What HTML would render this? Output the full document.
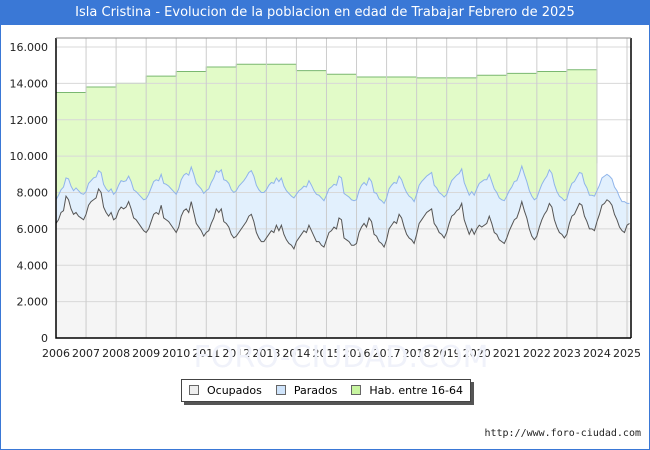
<!DOCTYPE html>
<html><head><meta charset="utf-8">
<style>
body{margin:0;background:#fff;}
#wrap{position:relative;width:648px;height:448px;border:1px solid #3a78d6;background:#fff;font-family:"DejaVu Sans","Liberation Sans",sans-serif;overflow:hidden}
#title{position:absolute;left:0;top:0;width:648px;height:24px;background:#3a78d6;color:#fff;font-size:13px;line-height:24px;text-align:center}
#legend{position:absolute;left:180px;top:378px;width:288px;height:21px;border:1px solid #444;background:#fff;box-shadow:3px 3px 0 #555;font-size:11px;line-height:21px;display:flex;justify-content:space-around;align-items:center}
.sw{display:inline-block;width:8px;height:8px;border:1px solid #666;margin-right:8px;vertical-align:-1px}
#foot{position:absolute;right:8px;top:427px;font-size:10px;font-family:"DejaVu Sans Mono","Liberation Mono",monospace;color:#222}
</style></head><body>
<div id="wrap">
<div id="title">Isla Cristina - Evolucion de la poblacion en edad de Trabajar Febrero de 2025</div>
<svg id="chart" width="648" height="448" style="position:absolute;left:0;top:0"></svg>
<div id="legend">
<span><span class="sw" style="background:#eee"></span>Ocupados</span>
<span><span class="sw" style="background:#cfe4fb"></span>Parados</span>
<span><span class="sw" style="background:#c8f5a0"></span>Hab. entre 16-64</span>
</div>
<div id="foot">http://www.foro-ciudad.com</div>
</div>
<script>
const years=[2006,2007,2008,2009,2010,2011,2012,2013,2014,2015,2016,2017,2018,2019,2020,2021,2022,2023,2024,2025];
const yTicks=[0,2000,4000,6000,8000,10000,12000,14000,16000];
const yTickLabels=["0","2.000","4.000","6.000","8.000","10.000","12.000","14.000","16.000"];
const habYear=[13500,13800,14000,14400,14650,14900,15050,15050,14700,14500,14350,14350,14300,14300,14450,14550,14650,14750];
const habDrop=9600;
const ocupados=[
6300,6500,6900,7000,7800,7600,7100,6800,6900,6700,6600,6500,
6800,7300,7500,7600,7700,8200,8000,7200,6900,6700,6900,6500,
6600,7000,7200,7100,7200,7500,7100,6600,6500,6300,6100,5900,
5800,6000,6400,6800,6900,6800,7300,6600,6500,6400,6200,6000,
5800,6100,6700,7000,7100,6900,7500,6900,6300,6100,5900,5600,
5800,5900,6300,6600,7100,6900,7100,6400,6300,6100,5700,5500,
5600,5800,6000,6200,6400,6700,6800,6400,5800,5500,5300,5300,
5500,5700,5900,5800,6200,5900,6200,5700,5400,5200,5100,4900,
5300,5500,5700,5900,5800,6200,5900,5600,5300,5300,5100,5000,
5400,5800,5900,6100,6000,6600,6500,5500,5400,5300,5100,5100,
5200,5800,6100,6300,6100,6600,6400,5700,5600,5300,5200,5000,
5400,6000,6200,6400,6300,6800,6600,6100,5700,5500,5400,5200,
5700,6300,6500,6700,6900,7000,7100,6300,6100,5800,5700,5500,
5800,6300,6700,6800,7000,7100,7400,6500,6100,5700,6000,5700,
6000,6200,6100,6200,6300,6700,6300,5800,5700,5400,5300,5200,
5500,5900,6200,6500,6600,7000,7500,7000,6600,6000,5600,5400,
5600,6100,6500,6800,7000,7400,7200,6500,6100,5800,5700,5500,
5700,6300,6700,6800,7100,7400,7300,6700,6400,6000,6000,5900,
6400,6800,7300,7400,7600,7500,7300,6800,6500,6100,5900,5800,
6200,6300];
const parados=[
1300,1350,1250,1300,1000,1150,1250,1300,1350,1400,1350,1400,
1250,1200,1150,1200,1150,1000,1100,1250,1300,1350,1300,1400,
1450,1400,1450,1500,1450,1400,1500,1550,1550,1600,1650,1700,
1850,1900,1850,1800,1800,1850,1700,1900,1950,1950,2000,2050,
2100,2100,2000,1950,1950,2050,1900,2100,2200,2250,2300,2350,
2300,2300,2250,2200,2100,2200,2150,2300,2350,2400,2450,2500,
2500,2550,2500,2450,2450,2400,2400,2500,2600,2650,2700,2700,
2650,2700,2650,2700,2600,2700,2600,2650,2700,2750,2700,2800,
2600,2600,2500,2450,2500,2450,2500,2500,2600,2550,2600,2550,
2450,2400,2400,2350,2400,2300,2300,2450,2450,2450,2500,2450,
2400,2300,2300,2250,2300,2200,2200,2300,2350,2350,2350,2400,
2300,2200,2200,2150,2200,2100,2100,2200,2300,2300,2300,2300,
2200,2100,2100,2050,2000,2000,2000,2100,2150,2200,2200,2250,
2100,2000,1950,2000,1950,1950,1900,2050,2100,2150,2050,2150,
2200,2300,2500,2500,2400,2300,2300,2400,2300,2300,2300,2350,
2300,2200,2100,2100,2050,2000,1950,2000,2000,2100,2200,2200,
2100,2000,1950,1900,1900,1850,1850,1950,1950,2000,2000,2050,
1950,1850,1800,1800,1750,1700,1750,1800,1850,1850,1850,1900,
1700,1600,1500,1500,1400,1400,1450,1500,1600,1650,1600,1700,
1200,1100];

const svg=document.getElementById('chart');
const NS='http://www.w3.org/2000/svg';
const L=55,R=630,T=37,B=337,Y0=2006,Y1=2025;
const xS=t=>L+(t-Y0)*(626-L)/(Y1-Y0);
const yS=v=>B-v*(B-46)/16000;
function mk(tag,attrs){const e=document.createElementNS(NS,tag);for(const k in attrs)e.setAttribute(k,attrs[k]);svg.appendChild(e);return e;}

let bg=mk('rect',{x:L,y:T,width:R-L,height:B-T,fill:'#fff'});



// hab area
let hp=`M${xS(Y0)},${yS(0)}`;
habYear.forEach((v,i)=>{hp+=` L${xS(Y0+i)},${yS(v)} L${xS(Y0+i+1)},${yS(v)}`;});
const hEnd=xS(Y0+habYear.length);
hp+=` L${hEnd},${yS(habDrop)} L${hEnd},${yS(0)} Z`;
let ha=mk('path',{d:hp,fill:'#e2fbc8',stroke:'none'});


let hl='';
habYear.forEach((v,i)=>{hl+=`${i?'L':'M'}${xS(Y0+i)},${yS(v)} L${xS(Y0+i+1)},${yS(v)} `;});
hl+=`L${hEnd},${yS(habDrop)}`;
let hline=mk('path',{d:hl,fill:'none',stroke:'#7ab870','stroke-width':1});



const tOf=i=>Y0+i/12;
// parados area (top = ocupados+parados)
let pts=ocupados.map((o,i)=>[xS(tOf(i)),yS(o+parados[i])]);
let pp=`M${pts[0][0]},${yS(0)} `+pts.map(p=>`L${p[0]},${p[1]}`).join(' ')+` L${pts[pts.length-1][0]},${yS(0)} Z`;
let pa=mk('path',{d:pp,fill:'#e2f0fd',stroke:'none'});


let opts=ocupados.map((o,i)=>[xS(tOf(i)),yS(o)]);
let op=`M${opts[0][0]},${yS(0)} `+opts.map(p=>`L${p[0]},${p[1]}`).join(' ')+` L${opts[opts.length-1][0]},${yS(0)} Z`;
let oa=mk('path',{d:op,fill:'#f5f5f5',stroke:'none'});



// grid
yTicks.forEach((v,i)=>{
  let g=mk('line',{x1:L,x2:R,y1:yS(v),y2:yS(v),stroke:'#d8d8d8','stroke-width':1});
  
  
  let t=mk('text',{x:L-8,y:yS(v)+4,'text-anchor':'end','font-size':11,fill:'#222','font-family':'DejaVu Sans, Liberation Sans, sans-serif'});
  t.textContent=yTickLabels[i];
  
  
});
years.forEach(y=>{
  let g=mk('line',{x1:xS(y),x2:xS(y),y1:T,y2:B,stroke:'#cccccc','stroke-width':1});
  
  
  let t=mk('text',{x:xS(y),y:B+19,'text-anchor':'middle','font-size':11,fill:'#222','font-family':'DejaVu Sans, Liberation Sans, sans-serif'});
  t.textContent=String(y);
  
  
});

let pl=mk('polyline',{points:pts.map(p=>p.join(',')).join(' '),fill:'none',stroke:'#8fb4ea','stroke-width':1});


let ol=mk('polyline',{points:opts.map(p=>p.join(',')).join(' '),fill:'none',stroke:'#555','stroke-width':1});



let wm=mk('text',{x:340,y:366,'text-anchor':'middle','font-size':30,fill:'#f0f2fa','font-family':'DejaVu Sans, sans-serif'});
wm.textContent='FORO-CIUDAD.COM';



let fr=mk('path',{d:`M${L},${T} L${L},${B} L${R},${B} M${R},${T} L${R},${B}`,fill:'none',stroke:'#000','stroke-width':1.5});


let ft=mk('line',{x1:L,x2:R,y1:T,y2:T,stroke:'#888','stroke-width':1});


</script>
</body></html>
